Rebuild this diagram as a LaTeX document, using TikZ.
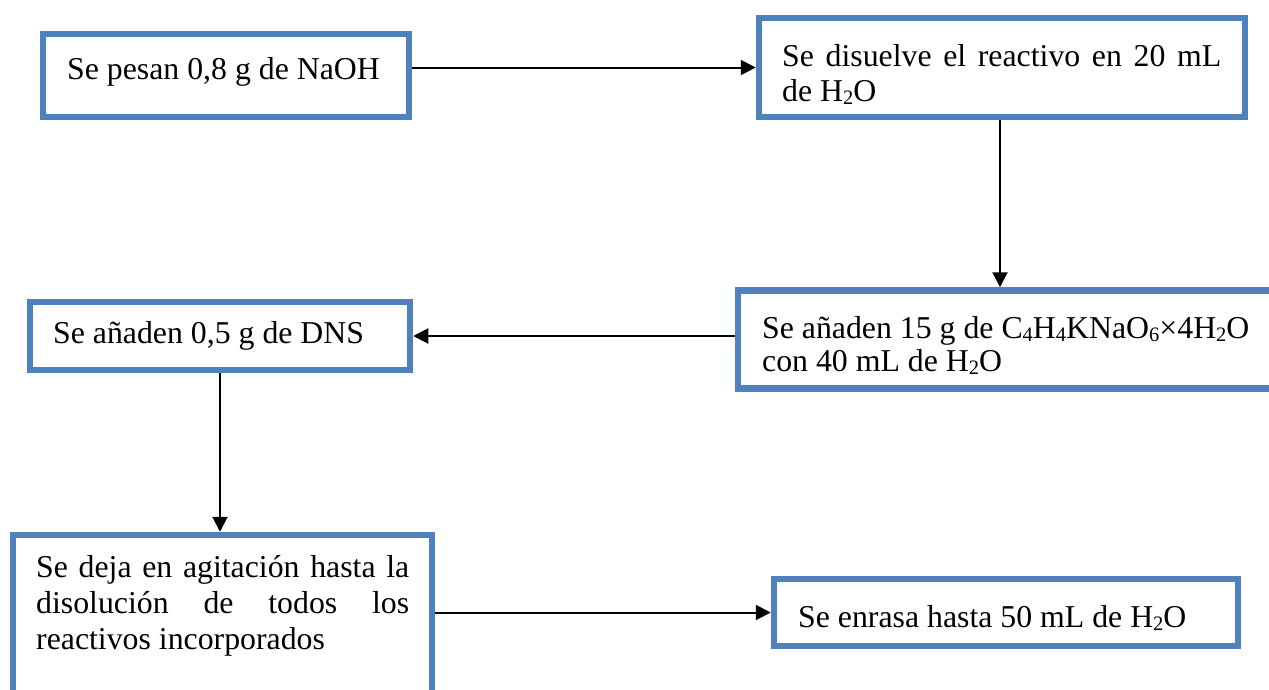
\documentclass[tikz,border=0pt]{standalone}
\usepackage{fontspec}
\setmainfont{Liberation Serif}
\usetikzlibrary{arrows.meta}
\definecolor{boxblue}{RGB}{79,129,189}
% chemical subscript, Word-style: smaller digit sitting just below the baseline
\newcommand\chsub[1]{\raisebox{-0.1em}{\fontsize{20.5}{20}\selectfont #1}}
% stacked lines whose first baseline is the box baseline
\newcommand\boxlines[2]{\vtop{\baselineskip=#1\relax #2}}
% a line stretched to a given width (justified)
\newcommand\fullline[2]{\hbox{\makebox[#1][s]{#2}}}

\begin{document}
\begin{tikzpicture}[x=1pt,y=-1pt,
  stepbox/.style={draw=boxblue,line width=6.5pt,inner sep=0pt,fill=white},
  txt/.style={anchor=base west,inner sep=0pt,font=\fontsize{31.8}{36}\selectfont},
  arr/.style={line width=2pt,-{Triangle[length=15pt,width=15pt]}}]
\useasboundingbox (0,0) rectangle (1269,689);
\clip (0,0) rectangle (1269,689);

% boxes
\node[stepbox,minimum width=366pt,minimum height=83pt]  (b1) at (226,75.5) {};
\node[stepbox,minimum width=486pt,minimum height=99pt]  (b2) at (1002,67.5) {};
\node[stepbox,minimum width=553pt,minimum height=98pt]  (b3) at (1014.5,339.5) {};
\node[stepbox,minimum width=380pt,minimum height=68pt]  (b4) at (220,336) {};
\node[stepbox,minimum width=419pt,minimum height=185pt] (b5) at (222.5,627.5) {};
\node[stepbox,minimum width=464pt,minimum height=67pt]  (b6) at (1006,612.5) {};

% texts
\node[txt] (t1) at (67,79) {Se pesan 0,8 g de NaOH};
\node[txt] (t2) at (782,66.5) {\boxlines{35pt}{%
  \fullline{439pt}{Se disuelve el reactivo en 20 mL}%
  \hbox{de H\chsub{2}O}}};
\node[txt] (t3) at (762,338) {\boxlines{33.5pt}{%
  \hbox{Se añaden 15 g de C\chsub{4}H\chsub{4}KNaO\chsub{6}×4H\chsub{2}O}%
  \hbox{con 40 mL de H\chsub{2}O}}};
\node[txt] (t4) at (53,343) {Se añaden 0,5 g de DNS};
\node[txt] (t5) at (36,577) {\boxlines{36pt}{%
  \fullline{373pt}{Se deja en agitación hasta la}%
  \fullline{373pt}{disolución de todos los}%
  \hbox{reactivos incorporados}}};
\node[txt] (t6) at (798,627) {Se enrasa hasta 50 mL de H\chsub{2}O};

% connectors
\draw[arr] (b1.east |- b2.west) -- (b2.west);
\draw[arr] ([xshift=-2pt]b2.south) coordinate (a2) -- (a2 |- b3.north);
\draw[arr] (b3.west |- b4.east) -- (b4.east);
\draw[arr] (b4.south) -- (b4.south |- b5.north);
\draw[arr] (b5.east |- b6.west) -- (b6.west);
\end{tikzpicture}
\end{document}
